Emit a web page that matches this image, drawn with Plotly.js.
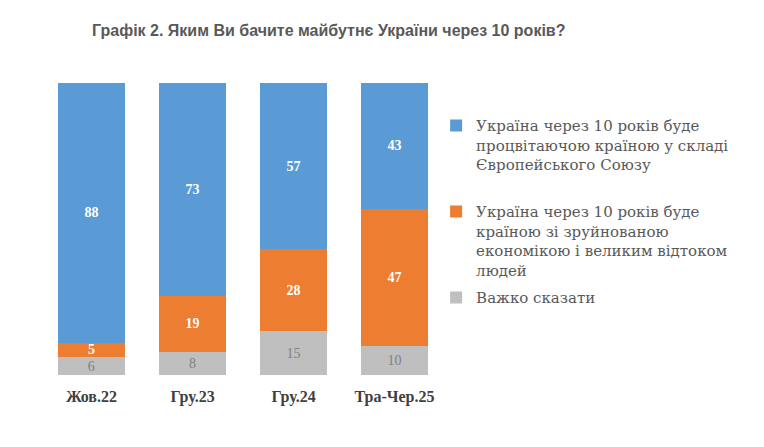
<!DOCTYPE html>
<html>
<head>
<meta charset="utf-8">
<script src="https://cdn.plot.ly/plotly-3.0.1.min.js"></script>
<style>
  html, body { margin: 0; padding: 0; background: #fff; }
  #chart { width: 764px; height: 447px; }
</style>
</head>
<body>
<div id="chart"></div>
<script>
const periods = ['Жов.22', 'Гру.23', 'Гру.24', 'Тра-Чер.25'];
const hardToSay = [6, 8, 15, 10];
const ruined = [5, 19, 28, 47];
const prosperous = [88, 73, 57, 43];

const nameProsperous = 'Україна через 10 років буде<br>процвітаючою країною у складі<br>Європейського Союзу<br>&#160;';
const nameRuined = 'Україна через 10 років буде<br>країною зі зруйнованою<br>економікою і великим відтоком<br>людей';
const nameHard = 'Важко сказати';

const serif = 'Liberation Serif, Times New Roman, serif';

const traces = [
    {
        x: periods, y: hardToSay, text: hardToSay.map(String), name: nameHard,
        type: 'bar', legendgroup: 'g3', legendrank: 3,
        marker: { color: '#bfbfbf' },
        textposition: 'inside', insidetextanchor: 'middle', constraintext: 'none', textangle: 0,
        textfont: { family: serif, size: 15, color: '#7f7f7f' },
        hoverinfo: 'skip'
    },
    {
        x: periods, y: ruined, text: ruined.map(String), name: nameRuined,
        type: 'bar', legendgroup: 'g2', legendrank: 2,
        marker: { color: '#ed7d31' },
        textposition: 'inside', insidetextanchor: 'middle', constraintext: 'none', textangle: 0,
        textfont: { family: serif, size: 14, color: '#ffffff', weight: 'bold' },
        hoverinfo: 'skip'
    },
    {
        x: periods, y: prosperous, text: prosperous.map(String), name: nameProsperous,
        type: 'bar', legendgroup: 'g1', legendrank: 1,
        marker: { color: '#5b9bd5' },
        textposition: 'inside', insidetextanchor: 'middle', constraintext: 'none', textangle: 0,
        textfont: { family: serif, size: 14, color: '#ffffff', weight: 'bold' },
        hoverinfo: 'skip'
    }
];

const layout = {
    width: 764,
    height: 447,
    barmode: 'stack',
    barnorm: 'percent',
    bargap: 0.34,
    margin: { l: 41, r: 319, t: 83, b: 72 },
    paper_bgcolor: '#ffffff',
    plot_bgcolor: '#ffffff',
    title: {
        text: 'Графік 2. Яким Ви бачите майбутнє України через 10 років?',
        font: { family: 'Liberation Sans, Arial, sans-serif', size: 16, color: '#595959', weight: 'bold' },
        xref: 'container', x: 92 / 764, xanchor: 'left',
        yref: 'container', y: 1 - 30 / 447, yanchor: 'middle'
    },
    xaxis: {
        showline: false, showgrid: false, zeroline: false, ticks: '',
        ticklabelstandoff: 10,
        tickfont: { family: serif, size: 16, color: '#404040', weight: 'bold' }
    },
    yaxis: {
        range: [0, 100], visible: false, showgrid: false, zeroline: false
    },
    showlegend: true,
    legend: {
        x: 0.978, xanchor: 'left',
        y: 0.91, yanchor: 'top',
        traceorder: 'grouped',
        tracegroupgap: 5,
        itemwidth: 30,
        valign: 'top',
        font: { family: 'DejaVu Serif, serif', size: 15, color: '#595959' },
        bgcolor: 'rgba(0,0,0,0)'
    },
    uniformtext: { mode: 'show', minsize: 12 }
};

Plotly.newPlot('chart', traces, layout, { displayModeBar: false, staticPlot: true });
</script>
</body>
</html>
